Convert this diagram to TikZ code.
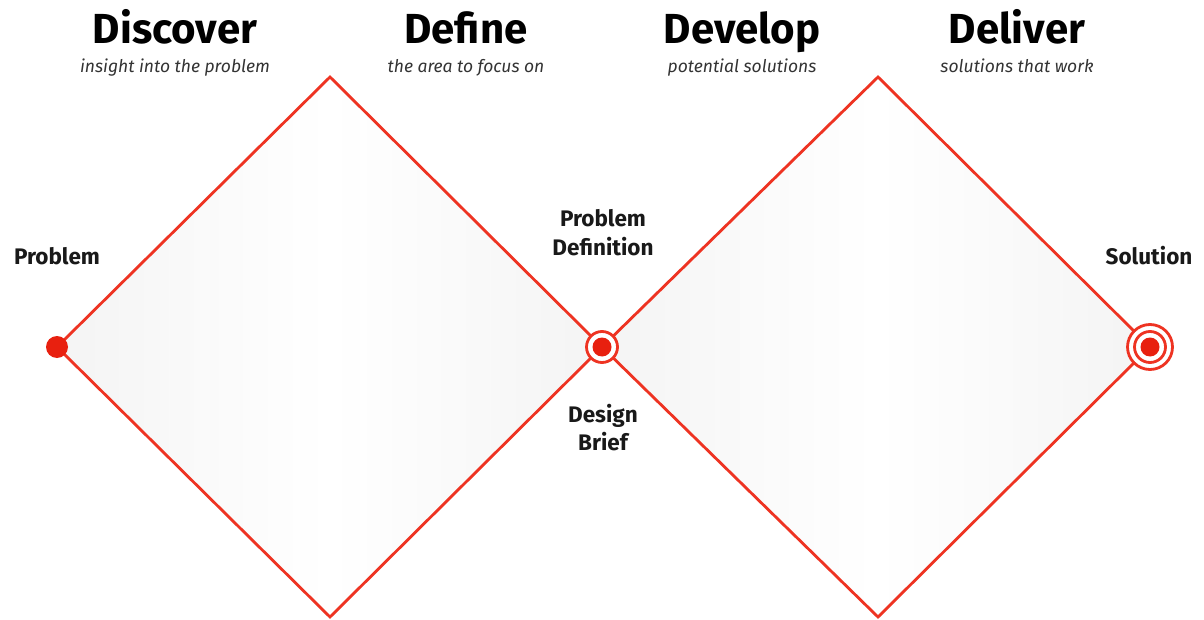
\documentclass[tikz,border=0pt]{standalone}
\usepackage{fontspec}
\setmainfont{Fira Sans}
\definecolor{dred}{HTML}{EE3322}
\definecolor{ddot}{HTML}{E8200F}
\definecolor{edgegray}{HTML}{F4F4F4}
\begin{document}
\begin{tikzpicture}[x=1pt,y=-1pt,
  diam/.style={draw=dred,line width=2.8pt,line join=miter,left color=edgegray,right color=edgegray,middle color=white},
  title/.style={font=\fontsize{42}{44}\selectfont\bfseries,text=black,anchor=base,inner sep=0pt},
  sub/.style={font=\fontsize{17.5}{19}\selectfont\itshape,text=black!80,anchor=base,inner sep=0pt},
  lab/.style={font=\fontsize{22.5}{29}\selectfont\bfseries,text=black!90,align=center,anchor=base,inner sep=0pt},
  ring/.style={draw=dred,line width=2.8pt,fill=white},
  core/.style={fill=ddot,draw=none}]
\useasboundingbox (0,0) rectangle (1204,620);
\fill[white] (0,0) rectangle (1204,620);
% diamonds
\coordinate (L) at (57,347);
\coordinate (M) at (602,347);
\coordinate (R) at (1150,347);
\coordinate (T1) at (330,77);
\coordinate (B1) at (330,617);
\coordinate (T2) at (878,77);
\coordinate (B2) at (878,617);
\draw[diam] (L) -- (T1) -- (M) -- (B1) -- cycle;
\draw[diam] (M) -- (T2) -- (R) -- (B2) -- cycle;
% dots
\node[core,circle,minimum size=22pt,inner sep=0pt] (dotL) at (L) {};
\node[ring,circle,minimum size=31pt,inner sep=0pt] (ringM) at (M) {};
\node[core,circle,minimum size=19pt,inner sep=0pt] (dotM) at (M) {};
\node[ring,circle,minimum size=45pt,inner sep=0pt] (ringR1) at (R) {};
\node[ring,circle,minimum size=31pt,inner sep=0pt] (ringR2) at (R) {};
\node[core,circle,minimum size=19pt,inner sep=0pt] (dotR) at (R) {};
% titles
\node[title] (t1) at (175,44) {Discover};
\node[title] (t2) at (466,44) {Define};
\node[title] (t3) at (742,44) {Develop};
\node[title] (t4) at (1017,44) {Deliver};
\node[sub] (s1) at (175,73) {insight into the problem};
\node[sub] (s2) at (466,73) {the area to focus on};
\node[sub] (s3) at (742,73) {potential solutions};
\node[sub] (s4) at (1017,73) {solutions that work};
% labels
\node[lab] (lp) at (57,265) {Problem};
\node[lab] (lpd1) at (603,227) {Problem};
\node[lab] (lpd2) at (603,256) {Definition};
\node[lab] (ldb1) at (603,422) {Design};
\node[lab] (ldb2) at (603,450) {Brief};
\node[lab] (ls) at (1149,265) {Solution};
\end{tikzpicture}
\end{document}
